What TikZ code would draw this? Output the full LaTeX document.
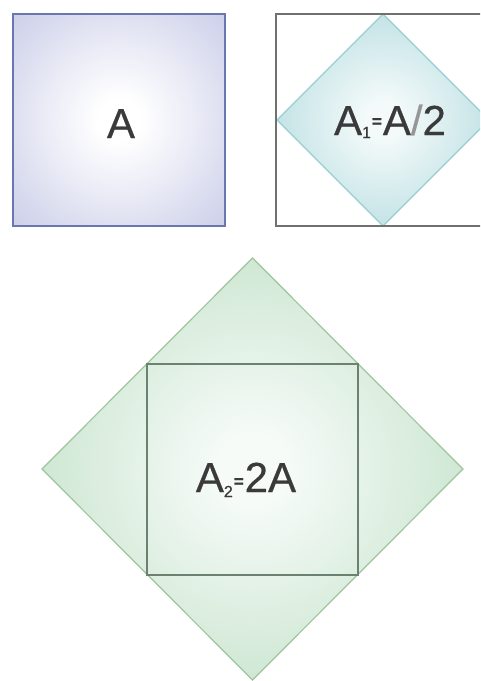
\documentclass[tikz,border=0pt]{standalone}
\usepackage{fontspec}
\setmainfont{Liberation Sans}
\newfontfamily\lblfont[FakeBold=0.5]{Liberation Sans}
\newfontfamily\eqfont[FakeBold=1.5]{Liberation Sans Bold}
\definecolor{lavA}{RGB}{186,191,226}
\definecolor{lavB}{RGB}{105,118,178}
\definecolor{cyA}{RGB}{178,218,222}
\definecolor{cyB}{RGB}{150,206,212}
\definecolor{cyC}{RGB}{244,250,250}
\definecolor{grA}{RGB}{192,224,198}
\definecolor{grB}{RGB}{160,196,156}
\definecolor{grC}{RGB}{246,251,248}
\definecolor{grD}{RGB}{108,130,112}
\definecolor{frm}{RGB}{112,112,112}
\definecolor{txt}{RGB}{58,58,58}
\definecolor{slash}{RGB}{150,150,150}
\pgfdeclareradialshading{shA}{\pgfpoint{0bp}{0bp}}{color(0bp)=(white); color(5bp)=(white); color(46bp)=(lavA); color(75bp)=(lavA)}
\pgfdeclareradialshading{shB}{\pgfpoint{0bp}{0bp}}{color(0bp)=(cyC); color(4bp)=(cyC); color(33bp)=(cyA); color(50bp)=(cyA)}
\pgfdeclareradialshading{shC}{\pgfpoint{0bp}{0bp}}{color(0bp)=(grC); color(4bp)=(grC); color(33bp)=(grA); color(50bp)=(grA)}
\tikzset{
  lbl/.style={text=txt, font=\lblfont\fontsize{42}{42}\selectfont, inner sep=0pt, anchor=base},
  sqA/.style={draw=lavB, line width=1.2pt, shading=shA},
  frame/.style={draw=frm, line width=1.8pt},
  dmB/.style={draw=cyB, line width=1.2pt, shading=shB},
  dmC/.style={draw=grB, line width=1.2pt, shading=shC},
  sqC/.style={draw=grD, line width=1.6pt}
}
\newcommand{\eqblk}[1]{\raisebox{#1}{\eqfont\fontsize{17}{17}\selectfont =}}
\begin{document}
\begin{tikzpicture}[x=1pt,y=-1pt]
\useasboundingbox (0,0) rectangle (480,681);
\clip (0,0) rectangle (480,681);
% square A
\path[sqA] (13,14) rectangle (225,226);
\node[lbl] (la) at (121,138) {A};
% framed square with diamond
\path[dmB] (383,14) -- (489,120) -- (383,226) -- (277,120) -- cycle;
\draw[frame] (276,14) rectangle (492,226);
\node[lbl] (lb) at (390,135) {A\raisebox{-3pt}{\fontsize{16}{16}\selectfont 1}\kern1pt\eqblk{8pt}\kern1pt A{\color{slash}/}2};
% big diamond
\path[dmC] (252.5,258) -- (463,469) -- (252.5,680) -- (42,469) -- cycle;
\draw[sqC] (147,364) rectangle (358,575);
\node[lbl] (lc) at (246,492) {A\raisebox{-5pt}{\fontsize{16}{16}\selectfont 2}\kern1pt\eqblk{5pt}\kern1pt 2A};
\end{tikzpicture}
\end{document}
